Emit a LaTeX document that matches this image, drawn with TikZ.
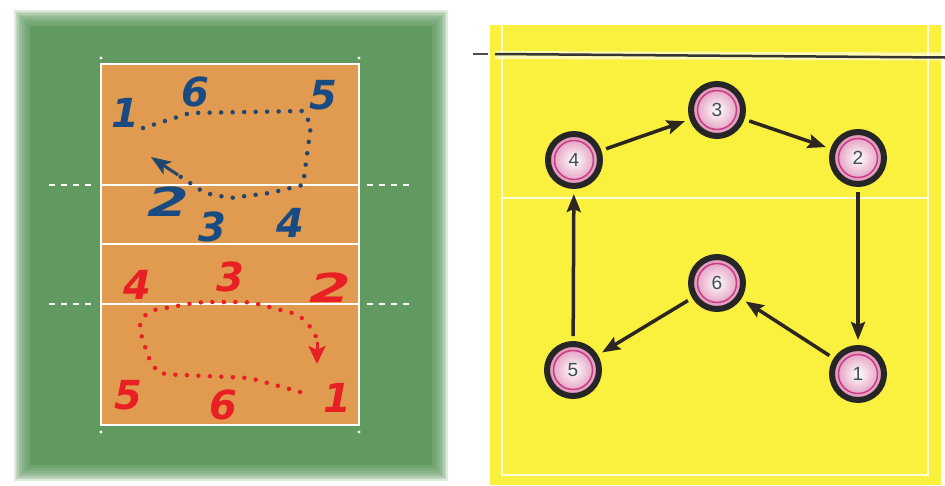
\documentclass[tikz,border=0pt]{standalone}
\usepackage{fontspec}
\usetikzlibrary{arrows.meta}
\newfontfamily\handfont{DejaVu Sans}
\newfontfamily\ballfont{Liberation Sans}
\definecolor{turf}{RGB}{96,154,96}
\definecolor{floorwood}{RGB}{224,155,80}
\definecolor{teamblue}{RGB}{25,75,130}
\definecolor{dotblue}{RGB}{35,70,110}
\definecolor{teamred}{RGB}{232,32,36}
\definecolor{gym}{RGB}{250,240,62}
\definecolor{ink}{RGB}{45,38,32}
\definecolor{ballpink}{RGB}{200,60,130}
\definecolor{digitgray}{RGB}{60,80,85}
\begin{document}
\begin{tikzpicture}[x=1pt,y=-1pt,
  handnum/.style={font=\handfont\bfseries\itshape\fontsize{40}{40}\selectfont, inner sep=0pt},
  bluenum/.style={handnum, text=teamblue},
  rednum/.style={handnum, text=teamred},
  courtline/.style={white, line width=2pt},
  sideline/.style={white, line width=2pt, dash pattern=on 6pt off 6pt},
  dottrail/.style={line width=4.5pt, line cap=round, dash pattern=on 0pt off 11.5pt},
  player/.style={circle, minimum size=52pt, inner sep=0pt, draw=black!85, line width=6pt,
    shade, inner color=white, outer color=ballpink!60,
    path picture={\draw[ballpink, line width=1.5pt] (path picture bounding box.center) circle (19.5pt);},
    font=\ballfont\fontsize{19}{19}\selectfont, text=digitgray},
  move/.style={ink, line width=3.5pt, -{Stealth[length=18pt,width=14pt,inset=3pt]},
    shorten >=5pt, shorten <=5pt}]

\useasboundingbox (0,0) rectangle (945,485);
\fill[white] (0,0) rectangle (945,485);

% ---------- left: court on green surround with soft edge ----------
\fill[turf] (30,26) rectangle (432,465);
\foreach \k in {1,...,10}
  \fill[turf, opacity=0.2] (30-1.6*\k, 26-1.6*\k) rectangle (432+1.6*\k, 465+1.6*\k);

\fill[floorwood] (101,64) rectangle (359,425);
\draw[courtline] (101,64) rectangle (359,425);
\draw[courtline] (101,185) -- (359,185);
\draw[courtline] (101,244) -- (359,244);
\draw[courtline] (101,304) -- (359,304);
\foreach \yy in {185,304} {
  \draw[sideline] (49,\yy) -- (94,\yy);
  \draw[sideline] (367,\yy) -- (411,\yy);
}
\foreach \p in {(101,58),(359,58),(101,432),(359,432)}
  \fill[white] \p circle (1.6pt);

% blue team
\node[bluenum] (b1) at (125,113) {1};
\node[bluenum] (b6) at (195,92) {6};
\node[bluenum] (b5) at (323,95) {5};
\node[bluenum, xscale=1.5] (b2) at (168,202) {2};
\node[bluenum] (b3) at (212,227) {3};
\node[bluenum] (b4) at (290,223) {4};

\coordinate (bstart) at (143,128);
\coordinate (bend) at (151,157);
\draw[dottrail, dotblue] (bstart) -- (190,113) -- (303,111) -- (311,125) -- (303,185)
  -- (270,193) -- (230,198) -- (205,193) -- (178,175);
\draw[dotblue, line width=3pt, -{Stealth[length=20pt,width=15pt,inset=5pt]}] (178,175) -- (bend);

% red team
\node[rednum] (r4) at (137,285) {4};
\node[rednum] (r3) at (230,277) {3};
\node[rednum, xscale=1.5] (r2) at (330,288) {2};
\node[rednum] (r5) at (128,395) {5};
\node[rednum] (r6) at (223,405) {6};
\node[rednum] (r1) at (337,398) {1};

\coordinate (rstart) at (300,392);
\coordinate (rend) at (317,364);
\draw[dottrail, teamred, rounded corners=8pt] (rstart) -- (250,378) -- (160,374) -- (150,362)
  -- (138,325) -- (148,311) -- (200,302) -- (250,302) -- (300,315) -- (317,335) -- (317,342);
\draw[teamred, line width=3pt, -{Stealth[length=18pt,width=17pt,inset=4pt]}] (317,342) -- (rend);

% ---------- right: rotation diagram on yellow court ----------
\fill[gym] (490,25) rectangle (941,485);
\draw[white, line width=2.5pt, opacity=0.8] (502,25) -- (502,475) -- (928,475) -- (928,25);
\draw[white, line width=2pt, opacity=0.8] (502,198) -- (928,198);
\draw[white, line width=8pt, opacity=0.6] (495,55) -- (941,56.5);
\draw[black!80, line width=2.5pt] (495,54) -- (945,57.5);
\draw[black!70, line width=2pt] (473,54) -- (488,54);

\node[player] (p3) at (717,110) {3};
\node[player] (p4) at (574,160) {4};
\node[player] (p2) at (858,158) {2};
\node[player] (p6) at (717,283) {6};
\node[player] (p5) at (573,370) {5};
\node[player] (p1) at (858,374) {1};

\draw[move] (p4) -- (p3);
\draw[move] (p3) -- (p2);
\draw[move] (p2) -- (p1);
\draw[move] (p1) -- (p6);
\draw[move] (p6) -- (p5);
\draw[move] (p5) -- (p4);
\end{tikzpicture}
\end{document}
